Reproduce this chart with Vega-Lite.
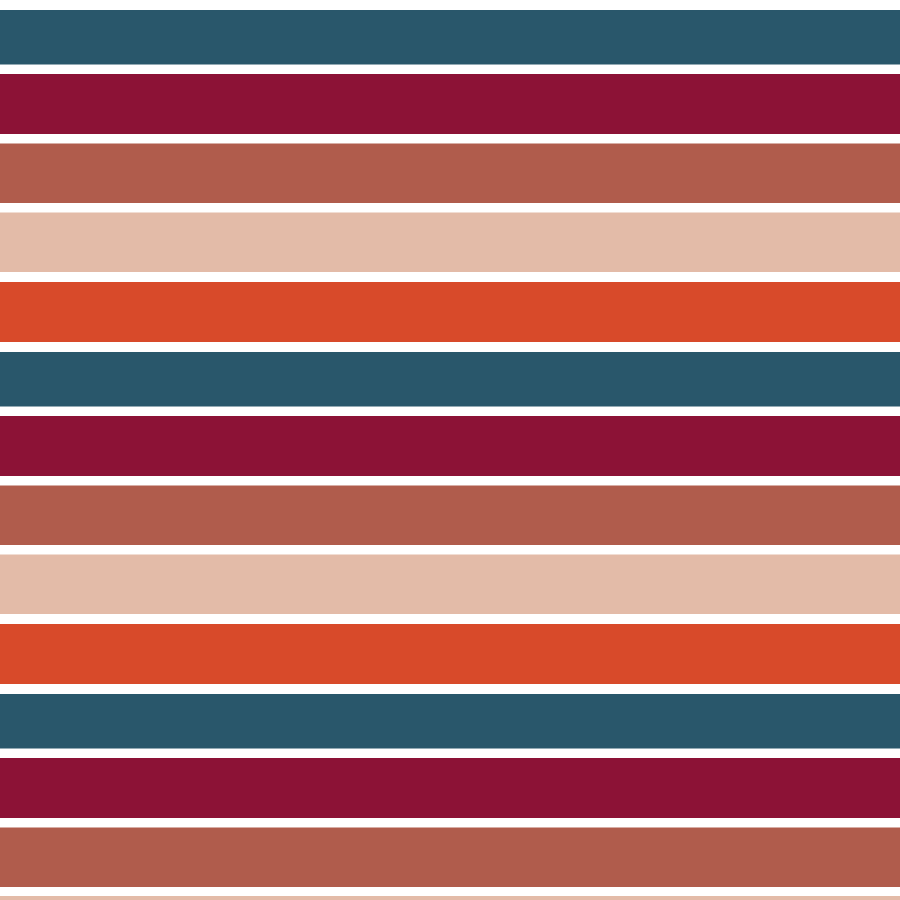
{
  "$schema": "https://vega.github.io/schema/vega-lite/v6.json",
  "autosize": {"type": "fit", "contains": "padding"},
  "width": 900,
  "height": 900,
  "padding": 0,
  "background": "white",
  "data": {
    "values": [
      {"stripe": 1, "shade": "teal", "top": 10, "bottom": 64.5},
      {"stripe": 2, "shade": "maroon", "top": 74, "bottom": 134},
      {"stripe": 3, "shade": "terracotta", "top": 143.5, "bottom": 203},
      {"stripe": 4, "shade": "peach", "top": 212.5, "bottom": 272},
      {"stripe": 5, "shade": "orange", "top": 282, "bottom": 342},
      {"stripe": 6, "shade": "teal", "top": 352, "bottom": 406.5},
      {"stripe": 7, "shade": "maroon", "top": 416, "bottom": 476},
      {"stripe": 8, "shade": "terracotta", "top": 485.5, "bottom": 545},
      {"stripe": 9, "shade": "peach", "top": 554.5, "bottom": 614},
      {"stripe": 10, "shade": "orange", "top": 624, "bottom": 684},
      {"stripe": 11, "shade": "teal", "top": 694, "bottom": 748.5},
      {"stripe": 12, "shade": "maroon", "top": 758, "bottom": 818},
      {"stripe": 13, "shade": "terracotta", "top": 827.5, "bottom": 887},
      {"stripe": 14, "shade": "peach", "top": 896, "bottom": 956}
    ]
  },
  "mark": {"type": "rect", "clip": true},
  "encoding": {
    "x": {"datum": 0, "type": "quantitative", "scale": {"domain": [0, 1], "nice": false, "zero": false}, "axis": null},
    "x2": {"datum": 1},
    "y": {"field": "top", "type": "quantitative", "scale": {"domain": [0, 900], "reverse": true, "nice": false, "zero": false}, "axis": null},
    "y2": {"field": "bottom"},
    "color": {
      "field": "shade",
      "type": "nominal",
      "scale": {
        "domain": ["teal", "maroon", "terracotta", "peach", "orange"],
        "range": ["#29576B", "#8C1236", "#B05C4C", "#E3BBA8", "#D84A2A"]
      },
      "legend": null
    }
  },
  "config": {
    "view": {"stroke": null}
  }
}
